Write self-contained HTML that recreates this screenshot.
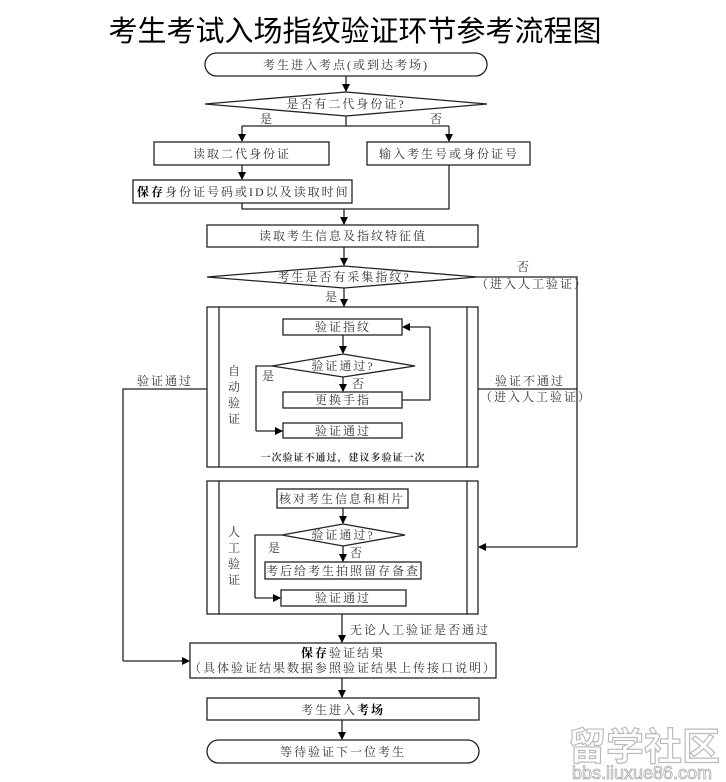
<!DOCTYPE html>
<html><head><meta charset="utf-8"><style>
html,body{margin:0;padding:0;background:#fff;width:726px;height:782px;overflow:hidden}
svg{display:block}
text{font-family:"Liberation Serif","Noto Serif CJK SC",serif;font-size:12px;fill:#333}
.c{text-anchor:middle}
.b{font-weight:bold;fill:#000}
</style></head><body>
<svg width="726" height="782" viewBox="0 0 726 782" xmlns="http://www.w3.org/2000/svg">
<defs><marker id="a" markerWidth="8" markerHeight="8" refX="7" refY="4" orient="auto" markerUnits="userSpaceOnUse"><path d="M0,0 L8,4 L0,8 z" fill="#000"/></marker></defs>
<g fill="none" stroke="#222" stroke-width="1.3">
<text x="355" y="41" class="c" style="font-family:'Liberation Sans','Noto Sans CJK SC',sans-serif;font-size:29px;fill:#000;stroke:none">考生考试入场指纹验证环节参考流程图</text>
<rect x="205" y="53" width="282" height="23" rx="11.5"/>
<line x1="346" y1="76" x2="346" y2="91" marker-end="url(#a)"/>
<polygon points="205,104 346,92 487,104 346,116"/>
<polyline points="346,116 346,126"/>
<line x1="242" y1="126" x2="449" y2="126"/>
<line x1="242" y1="126" x2="242" y2="141" marker-end="url(#a)"/>
<line x1="449" y1="126" x2="449" y2="141" marker-end="url(#a)"/>
<rect x="154" y="142" width="175" height="23"/>
<rect x="367" y="142" width="163" height="23"/>
<line x1="242" y1="165" x2="242" y2="179" marker-end="url(#a)"/>
<rect x="133" y="180" width="219" height="23"/>
<polyline points="242,203 242,209 449,209 449,165"/>
<line x1="344" y1="209" x2="344" y2="224" marker-end="url(#a)"/>
<rect x="207" y="225" width="271" height="22"/>
<line x1="344" y1="247" x2="344" y2="265" marker-end="url(#a)"/>
<polygon points="207,277 344,266 477,277 344,288"/>
<line x1="344" y1="288" x2="344" y2="306" marker-end="url(#a)"/>
<polyline points="477,277 577,277 577,547"/>
<line x1="577" y1="547" x2="479" y2="547" marker-end="url(#a)"/>
<rect x="207" y="307" width="271" height="160"/>
<line x1="219" y1="307" x2="219" y2="467"/><line x1="467" y1="307" x2="467" y2="467"/>
<rect x="283" y="319" width="119" height="16"/>
<line x1="343" y1="335" x2="343" y2="353" marker-end="url(#a)"/>
<polygon points="272,366 343,354 415,366 343,377"/>
<line x1="343" y1="377" x2="343" y2="391" marker-end="url(#a)"/>
<rect x="283" y="392" width="119" height="16"/>
<polyline points="402,400 430,400 430,327"/>
<line x1="430" y1="327" x2="403" y2="327" marker-end="url(#a)"/>
<polyline points="272,366 256,366 256,431"/>
<line x1="256" y1="431" x2="282" y2="431" marker-end="url(#a)"/>
<rect x="283" y="423" width="119" height="15"/>
<polyline points="207,389 123,389 123,661"/>
<line x1="123" y1="661" x2="189" y2="661" marker-end="url(#a)"/>
<line x1="478" y1="389" x2="577" y2="389"/>
<rect x="207" y="481" width="271" height="133"/>
<line x1="219" y1="481" x2="219" y2="614"/><line x1="467" y1="481" x2="467" y2="614"/>
<rect x="277" y="489" width="131" height="19"/>
<line x1="343" y1="508" x2="343" y2="523" marker-end="url(#a)"/>
<polygon points="282,535 343,524 405,535 343,546"/>
<line x1="343" y1="546" x2="343" y2="561" marker-end="url(#a)"/>
<rect x="265" y="562" width="156" height="17"/>
<polyline points="282,535 255,535 255,598"/>
<line x1="255" y1="598" x2="280" y2="598" marker-end="url(#a)"/>
<rect x="281" y="590" width="125" height="16"/>
<line x1="342" y1="614" x2="342" y2="642" marker-end="url(#a)"/>
<rect x="190" y="643" width="306" height="35"/>
<line x1="342" y1="678" x2="342" y2="697" marker-end="url(#a)"/>
<rect x="207" y="698" width="272" height="22"/>
<line x1="342" y1="720" x2="342" y2="739" marker-end="url(#a)"/>
<rect x="207" y="740" width="272" height="23" rx="11.5"/>
</g>
<g style="letter-spacing:2px">
<text x="346" y="69" class="c">考生进入考点(或到达考场)</text>
<text x="346" y="108" class="c">是否有二代身份证?</text>
<text x="260" y="123">是</text>
<text x="430" y="123">否</text>
<text x="242" y="158" class="c">读取二代身份证</text>
<text x="449" y="158" class="c">输入考生号或身份证号</text>
<text x="137" y="196"><tspan class="b">保存</tspan>身份证号码或ID以及读取时间</text>
<text x="343" y="240" class="c">读取考生信息及指纹特征值</text>
<text x="344" y="281" class="c">考生是否有采集指纹?</text>
<text x="517" y="271">否</text>
<text x="476" y="288">（进入人工验证）</text>
<text x="325" y="301">是</text>
<text x="343" y="331" class="c">验证指纹</text>
<text x="343" y="370" class="c">验证通过?</text>
<text x="262" y="380">是</text>
<text x="352" y="388">否</text>
<text x="343" y="404" class="c">更换手指</text>
<text x="343" y="435" class="c">验证通过</text>
<text x="228" y="375">自</text><text x="228" y="391">动</text><text x="228" y="407">验</text><text x="228" y="423">证</text>
<text x="343" y="461" class="c" style="font-size:10px;font-weight:bold;letter-spacing:1px">一次验证不通过，建议多验证一次</text>
<text x="137" y="385">验证通过</text>
<text x="495" y="385">验证不通过</text>
<text x="480" y="401">（进入人工验证）</text>
<text x="342" y="503" class="c">核对考生信息和相片</text>
<text x="343" y="539" class="c">验证通过?</text>
<text x="268" y="552">是</text>
<text x="350" y="557">否</text>
<text x="343" y="575" class="c">考后给考生拍照留存备查</text>
<text x="343" y="602" class="c">验证通过</text>
<text x="228" y="536">人</text><text x="228" y="552">工</text><text x="228" y="568">验</text><text x="228" y="584">证</text>
<text x="350" y="634">无论人工验证是否通过</text>
<text x="343" y="657" class="c"><tspan class="b">保存</tspan>验证结果</text>
<text x="343" y="672" class="c">（具体验证结果数据参照验证结果上传接口说明）</text>
<text x="343" y="714" class="c">考生进入<tspan class="b">考场</tspan></text>
<text x="343" y="756" class="c">等待验证下一位考生</text>
</g>
<text x="644" y="760" class="c" style="font-family:'Liberation Sans','Noto Sans CJK SC',sans-serif;font-size:38px;font-weight:bold;fill:#fff;stroke:#bbb;stroke-width:1.2">留学社区</text>
<text x="642" y="779" class="c" style="font-family:'Liberation Sans',sans-serif;font-size:18px;fill:#fff;stroke:#aaa;stroke-width:0.8">bbs.liuxue86.com</text>
</svg>
</body></html>
